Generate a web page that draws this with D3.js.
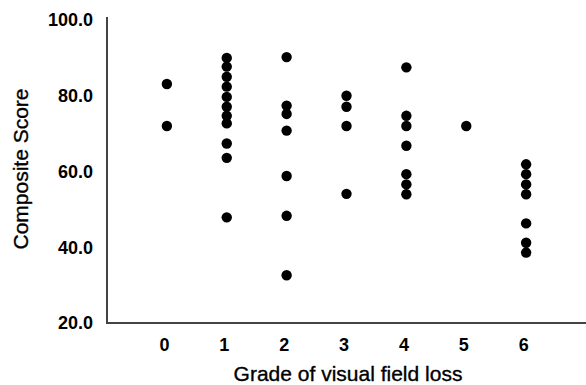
<!DOCTYPE html>
<html>
<head>
	<meta charset="utf-8">
	<title>visual field loss</title>
	<script src="https://d3js.org/d3.v7.min.js"></script>
	<style>
		body { margin: 0; background: #fff; }
		svg text { font-family: 'Liberation Sans', Arial, sans-serif; fill: #000; }
		.tick text { font-size: 18px; font-weight: bold; }
		.title { font-size: 21px; stroke: #000; stroke-width: 0.35px; }
	</style>
</head>
<body>
	<script>
		var w = 586;
		var h = 385;

		// grade of visual field loss -> composite scores
		var grades = [0, 1, 2, 3, 4, 5, 6];
		var grade0 = [83.1, 72.0];
		var grade1 = [90.0, 87.7, 85.0, 82.4, 79.7, 77.1, 74.7, 72.7, 67.4, 63.6, 47.9];
		var grade2 = [90.2, 77.4, 75.2, 70.8, 58.8, 48.3, 32.6];
		var grade3 = [80.0, 77.1, 72.0, 54.1];
		var grade4 = [87.5, 74.7, 72.0, 66.8, 59.3, 56.6, 54.0];
		var grade5 = [72.0];
		var grade6 = [61.9, 59.3, 56.6, 54.0, 46.3, 41.2, 38.6];
		var yTicks = [20, 40, 60, 80, 100];

		var scores = [grade0, grade1, grade2, grade3, grade4, grade5, grade6];
		var points = [];
		scores.forEach(function (list, i) {
			list.forEach(function (v) {
				points.push({ grade: grades[i], score: v });
			});
		});

		var svg = d3.select('body')
			.append('svg')
			.attr('width', w)
			.attr('height', h);

		var x = d3.scaleLinear().domain([-1, 7]).range([107, 586]);
		var y = d3.scaleLinear().domain([20, 100]).range([323, 20]);

		var yAxis = svg.append('g')
			.attr('transform', 'translate(107,0)')
			.call(d3.axisLeft(y).tickValues(yTicks).tickSize(0).tickPadding(14).tickFormat(d3.format('.1f')));
		yAxis.select('.domain').remove();

		var xAxis = svg.append('g')
			.attr('transform', 'translate(0,323)')
			.call(d3.axisBottom(x).tickValues(grades).tickSize(0).tickPadding(15).tickFormat(d3.format('d')));
		xAxis.select('.domain').remove();
		// labels sit a little left of the dot columns in the original
		xAxis.selectAll('.tick text').attr('dx', -3);

		// axis lines
		svg.append('line')
			.attr('x1', 107).attr('x2', 107)
			.attr('y1', 17).attr('y2', 323)
			.attr('stroke', '#444').attr('stroke-width', 2);
		svg.append('line')
			.attr('x1', 106).attr('x2', w)
			.attr('y1', 323).attr('y2', 323)
			.attr('stroke', '#444').attr('stroke-width', 2);

		svg.append('g')
			.selectAll('circle')
			.data(points)
			.enter()
			.append('circle')
			.attr('cx', function (d) { return x(d.grade); })
			.attr('cy', function (d) { return y(d.score); })
			.attr('r', 5.2)
			.attr('fill', '#000');

		svg.append('text')
			.attr('class', 'title')
			.attr('x', 348)
			.attr('y', 381)
			.attr('text-anchor', 'middle')
			.text('Grade of visual field loss');

		svg.append('text')
			.attr('class', 'title')
			.attr('transform', 'translate(28,169) rotate(-90)')
			.attr('text-anchor', 'middle')
			.text('Composite Score');
	</script>
</body>
</html>
